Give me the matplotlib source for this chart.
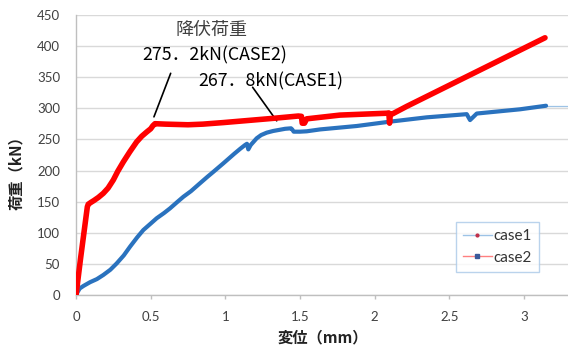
import matplotlib
matplotlib.use('Agg')
import matplotlib.pyplot as plt
from matplotlib import font_manager
from matplotlib.lines import Line2D

# load-displacement records (mm, kN)
case1_disp = [0, 0.01, 0.025, 0.05, 0.094, 0.14, 0.183, 0.23, 0.272, 0.32, 0.362,
              0.41, 0.451, 0.50, 0.54, 0.59, 0.63, 0.68, 0.719, 0.77, 0.83, 0.88,
              0.92, 0.987, 1.06, 1.10, 1.132, 1.145, 1.154, 1.17, 1.21, 1.24, 1.277,
              1.32, 1.366, 1.40, 1.44, 1.448, 1.458, 1.50, 1.545, 1.634, 1.88, 2.10,
              2.349, 2.617, 2.639, 2.684, 2.974, 3.148]
case1_load = [0, 5, 11, 15, 21, 26, 32.6, 41, 51, 64, 78,
              93, 104.7, 115, 123.5, 132, 139.5, 150, 158, 167, 179.6, 190,
              198, 211.7, 227, 235, 241, 243, 234, 241, 251.8, 257, 260.8,
              263.5, 265.5, 267, 267.8, 266, 262.4, 262.4, 263, 266, 271.5, 278.4,
              285.4, 290.5, 281, 291.5, 298.3, 304]

case2_disp = [0, 0.03, 0.076, 0.082, 0.10, 0.12, 0.15, 0.183, 0.215, 0.25, 0.28,
              0.317, 0.36, 0.406, 0.44, 0.474, 0.50, 0.515, 0.529, 0.60, 0.75,
              0.85, 0.987, 1.321, 1.489, 1.51, 1.515, 1.53, 1.545, 1.634, 1.768,
              2.081, 2.095, 2.10, 2.105, 2.12, 2.215, 3.141]
case2_load = [0, 58, 142, 146, 149, 152, 157, 163.6, 172, 185, 199,
              214, 230, 246, 255, 262, 267, 272, 275.2, 274.5, 273.5,
              274.5, 277, 283.8, 287.5, 287, 276, 276, 283, 285.4, 289,
              292, 292.5, 276, 290.5, 291, 303, 413]

# yield points
yield_disp = {'case1': 1.44, 'case2': 0.529}
yield_load = {'case1': 267.8, 'case2': 275.2}

x_ticks = [0, 0.5, 1, 1.5, 2, 2.5, 3]
x_ticklabels = ['0', '0.5', '1', '1.5', '2', '2.5', '3']
y_ticks = list(range(0, 451, 50))

blue = '#2A72BE'
red = '#FF0000'
grid_gray = '#D9D9D9'
axis_gray = '#BFBFBF'

# narrow font for the yield labels, if there is one
try:
    font_manager.findfont('Liberation Sans Narrow', fallback_to_default=False)
    label_family = ['Liberation Sans Narrow', 'Noto Sans CJK JP']
    label_size = 14.6
except ValueError:
    label_family = ['Noto Sans CJK JP']
    label_size = 12.8


def yield_label(value, case):
    return f"{value:.1f}".replace('.', '．') + f"kN({case})"


plt.rcParams['font.family'] = ['Lato', 'Noto Sans CJK JP', 'DejaVu Sans']

fig = plt.figure(figsize=(5.68, 3.47), dpi=100)
ax = fig.add_axes([76 / 568, 1 - 295.3 / 347, 1 - 76 / 568, (295.3 - 14.7) / 347])

ax.set_xlim(0, 3.295)
ax.set_ylim(0, 450)

ax.plot(case1_disp, case1_load, color=blue, lw=3.0, solid_capstyle='round',
        solid_joinstyle='round', zorder=3)
ax.plot(case2_disp, case2_load, color=red, lw=4.0, solid_capstyle='round',
        solid_joinstyle='round', zorder=4)
# thin tail of case1 past the last point
ax.plot([case1_disp[-1], 3.295], [case1_load[-1], case1_load[-1]],
        color='#9DC3E6', lw=0.9, zorder=2)

ax.set_yticks(y_ticks)
ax.set_xticks(x_ticks)
ax.set_xticklabels(x_ticklabels)
ax.grid(axis='y', color=grid_gray, lw=1.0)
ax.set_axisbelow(True)
for side in ['top', 'right']:
    ax.spines[side].set_visible(False)
for side in ['left', 'bottom']:
    ax.spines[side].set_color(axis_gray)
    ax.spines[side].set_linewidth(1.0)
ax.tick_params(axis='y', length=0, pad=11.5, labelsize=9.5, labelcolor='#404040')
ax.tick_params(axis='x', length=3, width=1.0, color=axis_gray, pad=8,
               labelsize=9.5, labelcolor='#404040')

fig.text(16.5 / 568, 1 - 169 / 347, '荷重（kN）', rotation=90, ha='center', va='center',
         fontsize=11, fontweight='bold', family=['Noto Sans CJK JP'], color='#222222')
fig.text(323 / 568, 1 - 337.5 / 347, '変位（mm）', ha='center', va='center',
         fontsize=11, fontweight='bold', family=['Noto Sans CJK JP'], color='#222222')

# yield annotations
ax.text(0.909, 425.5, '降伏荷重', ha='center', va='center', fontsize=13,
        family=['Noto Sans CJK JP'], color='#404040')
ax.text(0.931, 385.4, yield_label(yield_load['case2'], 'CASE2'),
        ha='center', va='center', fontsize=label_size, family=label_family, color='black')
ax.text(1.303, 342.6, yield_label(yield_load['case1'], 'CASE1'),
        ha='center', va='center', fontsize=label_size, family=label_family, color='black')
ax.annotate('', xy=(yield_disp['case2'] - 0.007, yield_load['case2'] + 11),
            xytext=(0.634, 356),
            arrowprops=dict(arrowstyle='-', color='black', lw=1.2, shrinkA=0, shrinkB=0))
ax.annotate('', xy=(1.344, yield_load['case1'] + 12), xytext=(1.183, 333.6),
            arrowprops=dict(arrowstyle='-', color='black', lw=1.2, shrinkA=0, shrinkB=0))

handles = [
    Line2D([], [], color='#9DC3E6', lw=1.0, marker='o', markersize=2,
           markerfacecolor='#C0304A', markeredgecolor='#C0304A'),
    Line2D([], [], color='#FF8080', lw=1.0, marker='s', markersize=3,
           markerfacecolor='#3A5A9A', markeredgecolor='#3A5A9A'),
]
leg = ax.legend(handles, ['case1', 'case2'], loc='upper left',
                bbox_to_anchor=((456 - 76) / 492, 1 - (222.3 - 14.7) / 280.6),
                fontsize=11, frameon=True, fancybox=False, handlelength=1.9,
                handletextpad=0.1, borderpad=0.45, labelspacing=0.5,
                borderaxespad=0)
leg.get_frame().set_edgecolor('#A9C8E8')
leg.get_frame().set_linewidth(1.0)
for t in leg.get_texts():
    t.set_color('#333333')

fig.savefig('out.png', dpi=100)
